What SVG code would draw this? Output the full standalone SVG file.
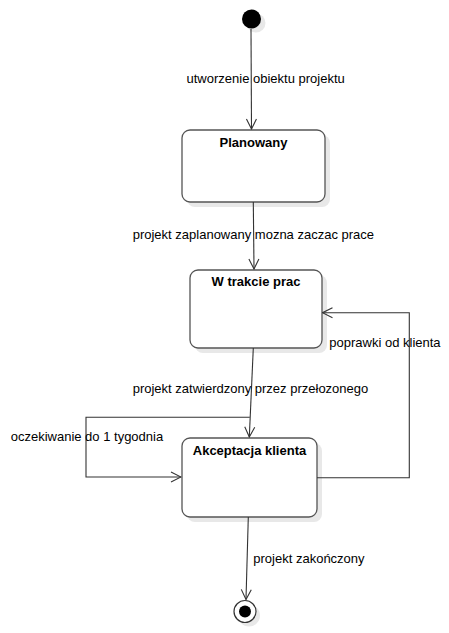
<svg xmlns="http://www.w3.org/2000/svg" width="449" height="633" viewBox="0 0 449 633">
<style>
.state{fill:#fff;stroke:#555;stroke-width:1.3}
.shadow{fill:#e8e8e8;stroke:none}
.title{font-family:"Liberation Sans",Arial,sans-serif;font-size:13px;font-weight:bold;fill:#000;text-anchor:middle}
.lbl{font-family:"Liberation Sans",Arial,sans-serif;font-size:13px;fill:#000}
.edge{fill:none;stroke:#333;stroke-width:1.1}
</style>
<defs>
<marker id="arr" viewBox="0 0 12 12" refX="11" refY="6" markerWidth="12" markerHeight="12" markerUnits="userSpaceOnUse" orient="auto">
<path d="M1,1 L11,6 L1,11" fill="none" stroke="#333" stroke-width="1.1"/>
</marker>
</defs>
<rect width="449" height="633" fill="#fff"/>
<g id="initial">
<circle cx="256" cy="23" r="9.5" class="shadow"/>
<circle cx="251.5" cy="19" r="9.5" fill="#000"/>
</g>
<g id="planowany">
<rect x="187" y="135" width="143" height="72" rx="8" class="shadow"/>
<rect x="182" y="130" width="143" height="72" rx="8" class="state"/>
<text x="253.5" y="147" class="title">Planowany</text>
</g>
<g id="wtrakcie">
<rect x="195" y="275" width="132" height="78" rx="8" class="shadow"/>
<rect x="190" y="270" width="132" height="78" rx="8" class="state"/>
<text x="256" y="286" class="title">W trakcie prac</text>
</g>
<g id="akceptacja">
<rect x="187" y="443" width="135" height="79" rx="8" class="shadow"/>
<rect x="182" y="438" width="135" height="79" rx="8" class="state"/>
<text x="249.5" y="455" class="title">Akceptacja klienta</text>
</g>
<g id="final">
<circle cx="249" cy="615.5" r="11" class="shadow"/>
<circle cx="245" cy="611.5" r="11" fill="#fff" stroke="#333" stroke-width="1.2"/>
<circle cx="245" cy="611.5" r="6" fill="#000"/>
</g>
<g id="connectors">
<path class="edge" d="M251,29 L251.5,129" marker-end="url(#arr)"/>
<path class="edge" d="M253.3,202 L254,269" marker-end="url(#arr)"/>
<path class="edge" d="M253.3,348 L249.3,437" marker-end="url(#arr)"/>
<path class="edge" d="M249.8,417.3 L86,417.3 L86,477 L181,477" marker-end="url(#arr)"/>
<path class="edge" d="M317,477.7 L409.3,477.7 L409.3,312.7 L322.5,312.7" marker-end="url(#arr)"/>
<path class="edge" d="M248.3,517 L246,599.5" marker-end="url(#arr)"/>
</g>
<g id="labels">
<text x="186.5" y="83" class="lbl">utworzenie obiektu projektu</text>
<text x="132.7" y="238.5" class="lbl">projekt zaplanowany mozna zaczac prace</text>
<text x="329.3" y="347" class="lbl">poprawki od klienta</text>
<text x="132.7" y="393" class="lbl">projekt zatwierdzony przez przełozonego</text>
<text x="10.7" y="440.5" class="lbl">oczekiwanie do 1 tygodnia</text>
<text x="253.3" y="563" class="lbl">projekt zakończony</text>
</g>
</svg>
